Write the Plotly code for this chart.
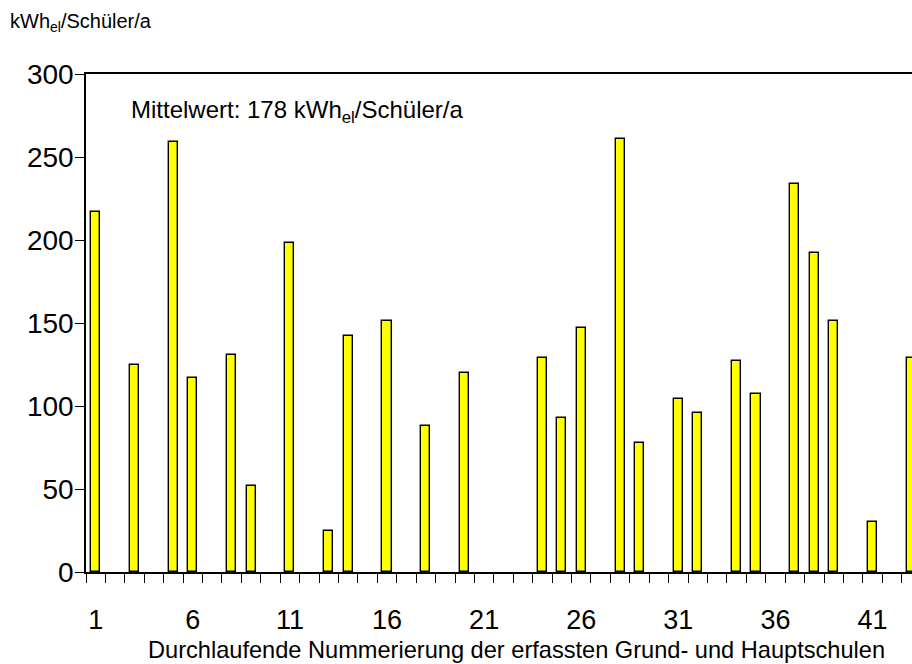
import plotly.graph_objects as go

schools = list(range(1, 44))
values = [217, None, 125, None, 259, 117, None, 131, 52, None,
          198, None, 25, 142, None, 151, None, 88, None, 120,
          None, None, None, 129, 93, 147, None, 261, 78, None,
          104, 96, None, 127, 107, None, 234, 192, 151, None,
          30, None, 129]
x_tick_vals = [1, 6, 11, 16, 21, 26, 31, 36, 41]
y_tick_vals = [0, 50, 100, 150, 200, 250, 300]
boundaries = [i + 0.5 for i in range(0, 44)]

FONT = "Liberation Sans, Arial, sans-serif"

# plot area spans page x 86..912, y 74..572
PLOT_W, PLOT_H = 826, 498


def px(x):
    return (x - 86) / PLOT_W


def py(y):
    return (572 - y) / PLOT_H


fig = go.Figure()
fig.add_trace(go.Bar(
    x=schools, y=values, width=0.47,
    marker=dict(color="#FFFF00", line=dict(color="black", width=1.4)),
    showlegend=False,
))

fig.update_layout(
    width=912, height=664,
    margin=dict(l=86, r=0, t=74, b=92, autoexpand=False),
    paper_bgcolor="white", plot_bgcolor="white",
    font=dict(family=FONT, color="black"),
    bargap=0,
)
fig.update_xaxes(
    range=[0.5, 43.03], tickmode="array", tickvals=x_tick_vals,
    ticks="outside", ticklen=0, tickfont=dict(size=27),
    ticklabelstandoff=23,
    showline=True, linecolor="black", linewidth=1.5, mirror=True,
    showgrid=False, zeroline=False,
    minor=dict(tickmode="array", tickvals=boundaries, ticks="outside",
               ticklen=9, tickcolor="black", tickwidth=1.3, showgrid=False),
)
fig.update_yaxes(
    range=[0, 300], tickmode="array", tickvals=y_tick_vals,
    ticks="outside", ticklen=9, tickwidth=1.3, tickcolor="black",
    tickfont=dict(size=28), ticklabelstandoff=-4,
    showline=True, linecolor="black", linewidth=1.5,
    showgrid=False, zeroline=False,
)
fig.add_annotation(text="kWh<sub>el</sub>/Schüler/a", xref="paper", yref="paper",
                   x=px(8), y=py(22), xanchor="left", yanchor="middle",
                   showarrow=False, font=dict(size=20))
fig.add_annotation(text="Mittelwert: 178 kWh<sub>el</sub>/Schüler/a", xref="paper", yref="paper",
                   x=px(129), y=py(111), xanchor="left", yanchor="middle",
                   showarrow=False, font=dict(size=24))
fig.add_annotation(text="Durchlaufende Nummerierung der erfassten Grund- und Hauptschulen",
                   xref="paper", yref="paper",
                   x=px(516), y=py(650), xanchor="center", yanchor="middle",
                   showarrow=False, font=dict(size=23.6))

fig.write_html("out.html", config={"displayModeBar": False},
               post_script="document.body.style.margin='0';")
